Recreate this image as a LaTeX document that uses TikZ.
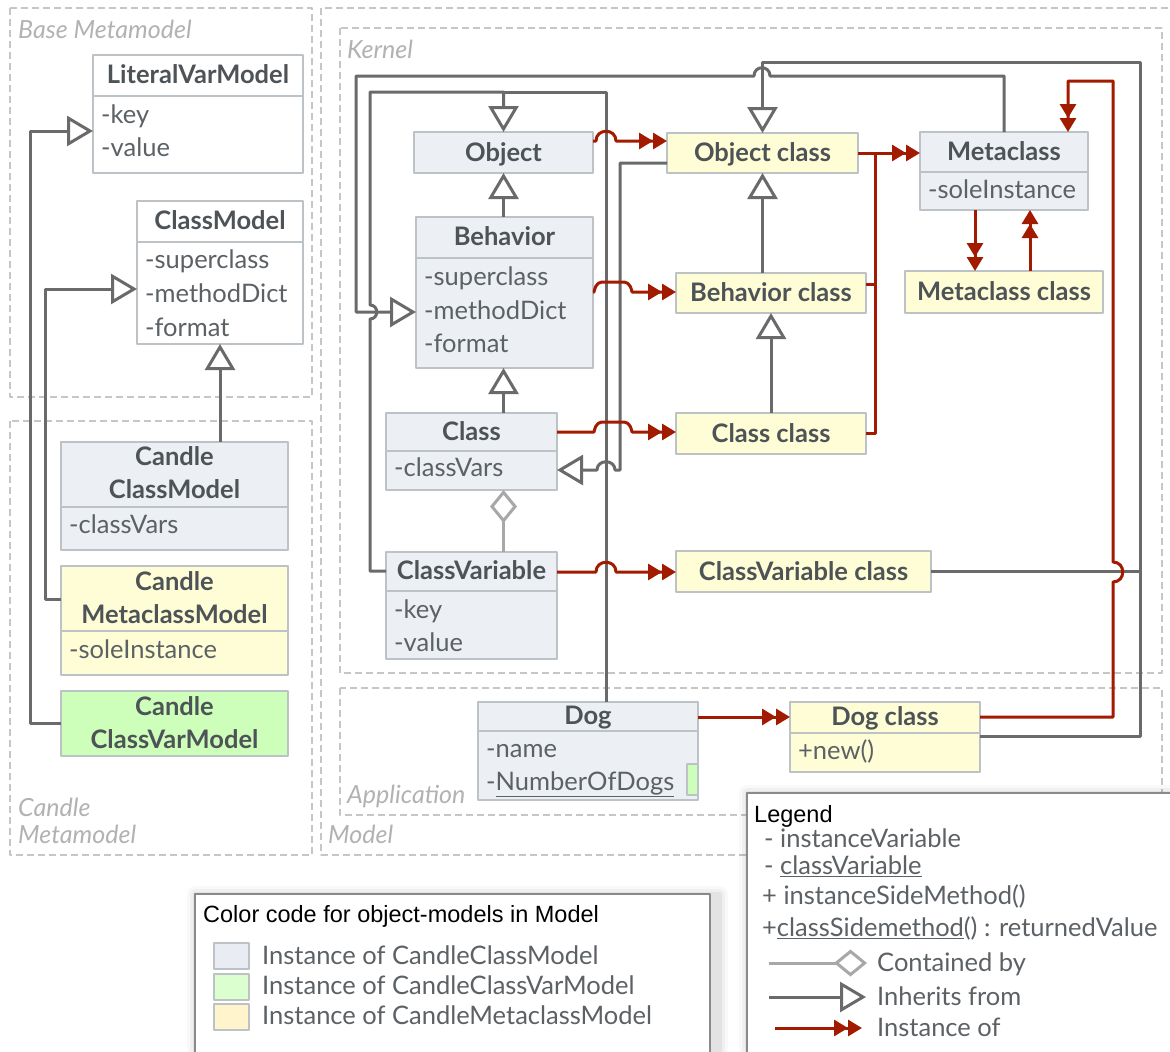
\documentclass[tikz,border=0pt]{standalone}
\usepackage{fontspec}
\setmainfont{Lato}
\newfontfamily\helv{Liberation Sans}
\usetikzlibrary{arrows.meta,calc}
\definecolor{lnc}{HTML}{6A6A6A}
\definecolor{redc}{HTML}{A21A00}
\definecolor{dia}{HTML}{A8A8A8}
\definecolor{bordc}{HTML}{BCC2C6}
\definecolor{bluef}{HTML}{ECEFF3}
\definecolor{yelf}{HTML}{FFFDD6}
\definecolor{grnf}{HTML}{CDFFBA}
\definecolor{ttlc}{HTML}{4E5357}
\definecolor{attc}{HTML}{5C6165}
\definecolor{contc}{HTML}{C6C6C6}
\definecolor{contt}{HTML}{B2B2B2}
\definecolor{legb}{HTML}{8A8A8A}
\definecolor{swb}{HTML}{E9EDF3}
\definecolor{swg}{HTML}{DCFFD0}
\definecolor{swy}{HTML}{FFF4CC}
\tikzset{
 ubox/.style={draw=bordc, line width=2.5pt, inner sep=0pt, outer sep=0pt, anchor=north west},
 sepl/.style={draw=bordc, line width=2.5pt},
 ttl/.style={font=\fontsize{25.5}{29}\selectfont\bfseries, text=ttlc, inner sep=0pt, text height=19pt, text depth=2pt},
 att/.style={font=\fontsize{25.5}{29}\selectfont, text=attc, inner sep=0pt, anchor=west, text height=19pt, text depth=2pt},
 cont/.style={draw=contc, line width=1.3pt, dash pattern=on 7pt off 4pt},
 contlbl/.style={font=\fontsize{25}{29}\selectfont\itshape, text=contt, inner sep=0pt, anchor=west, text height=18pt, text depth=2pt},
 helvt/.style={font=\helv\fontsize{23.5}{27}\selectfont, text=black, inner sep=0pt, anchor=west, text height=17pt, text depth=2pt},
 inh/.style={draw=lnc, line width=3pt, -{Triangle[open, fill=white, length=26pt, width=30pt]}},
 gline/.style={draw=lnc, line width=3pt},
 inst/.style={draw=redc, line width=3pt, -{Triangle[length=14pt, width=16pt] Triangle[length=14pt, width=16pt]}},
 rline/.style={draw=redc, line width=3pt},
 contby/.style={draw=dia, line width=3pt, -{Diamond[open, fill=white, length=33pt, width=27pt]}},
 swatch/.style={draw=bordc, line width=2.5pt, inner sep=0pt, outer sep=0pt, anchor=north west, minimum width=35pt, minimum height=26pt},
}
\newcommand{\ubx}[6]{\node[ubox, fill=#6, minimum width={#4-#2}, minimum height={#5-#3}] (#1) at (#2,#3) {};}
\begin{document}
\begin{tikzpicture}[x=1pt,y=-1pt,line join=round]
\useasboundingbox (0,0) rectangle (1170,1052);
\fill[white] (0,0) rectangle (1170,1052);
% containers
\draw[cont] (10,8) rectangle (312,397);
\draw[cont] (10,421) rectangle (312,855);
\draw[cont] (321,8) rectangle (1190,855);
\draw[cont] (340,28) rectangle (1162,673);
\draw[cont] (340,688) rectangle (1162,815);
\node[contlbl] (lblBase) at (18,30) {Base Metamodel};
\node[contlbl] (lblCand1) at (18,808) {Candle};
\node[contlbl] (lblCand2) at (18,835) {Metamodel};
\node[contlbl] (lblKern) at (347,50) {Kernel};
\node[contlbl] (lblApp) at (347,795) {Application};
\node[contlbl] (lblModel) at (328,835) {Model};

% ---------- boxes ----------
\ubx{LitVar}{93}{55}{303}{173}{white}
\draw[sepl] (93,96) -- (303,96);
\node[ttl] (LitVarT) at (LitVar.north |- 0,75) {LiteralVarModel};
\node[att] (LitVarA1) at (101,115) {-key};
\node[att] (LitVarA2) at (101,148) {-value};

\ubx{ClassModel}{137}{201}{303}{344}{white}
\draw[sepl] (137,242) -- (303,242);
\node[ttl] (ClassModelT) at (ClassModel.north |- 0,221) {ClassModel};
\node[att] (ClassModelA1) at (145,260) {-superclass};
\node[att] (ClassModelA2) at (145,294) {-methodDict};
\node[att] (ClassModelA3) at (145,328) {-format};

\ubx{CCM}{61}{442}{288}{550}{bluef}
\draw[sepl] (61,507) -- (288,507);
\node[ttl] (CCMT1) at (CCM.north |- 0,457) {Candle};
\node[ttl] (CCMT2) at (CCM.north |- 0,490) {ClassModel};
\node[att] (CCMA1) at (69,525) {-classVars};

\ubx{CMM}{61}{566}{288}{675}{yelf}
\draw[sepl] (61,631) -- (288,631);
\node[ttl] (CMMT1) at (CMM.north |- 0,582) {Candle};
\node[ttl] (CMMT2) at (CMM.north |- 0,615) {MetaclassModel};
\node[att] (CMMA1) at (69,650) {-soleInstance};

\ubx{CCVM}{61}{691}{288}{756}{grnf}
\node[ttl] (CCVMT1) at (CCVM.north |- 0,707) {Candle};
\node[ttl] (CCVMT2) at (CCVM.north |- 0,740) {ClassVarModel};

\ubx{Object}{414}{132}{593}{173}{bluef}
\node[ttl] (ObjectT) at (Object.center) {Object};

\ubx{Behavior}{416}{217}{593}{368}{bluef}
\draw[sepl] (416,258) -- (593,258);
\node[ttl] (BehaviorT) at (Behavior.north |- 0,237) {Behavior};
\node[att] (BehaviorA1) at (424,277) {-superclass};
\node[att] (BehaviorA2) at (424,311) {-methodDict};
\node[att] (BehaviorA3) at (424,344) {-format};

\ubx{Class}{386}{413}{557}{490}{bluef}
\draw[sepl] (386,451) -- (557,451);
\node[ttl] (ClassT) at (Class.north |- 0,432) {Class};
\node[att] (ClassA1) at (394,468) {-classVars};

\ubx{CV}{386}{552}{557}{659}{bluef}
\draw[sepl] (386,591) -- (557,591);
\node[ttl] (CVT) at (CV.north |- 0,571) {ClassVariable};
\node[att] (CVA1) at (394,610) {-key};
\node[att] (CVA2) at (394,643) {-value};

\ubx{ObjectClass}{667}{133}{858}{173}{yelf}
\node[ttl] (ObjectClassT) at (ObjectClass.center) {Object class};

\ubx{BehaviorClass}{676}{273}{866}{313}{yelf}
\node[ttl] (BehaviorClassT) at (BehaviorClass.center) {Behavior class};

\ubx{ClassClass}{676}{413}{866}{454}{yelf}
\node[ttl] (ClassClassT) at (ClassClass.center) {Class class};

\ubx{CVClass}{676}{551}{931}{592}{yelf}
\node[ttl] (CVClassT) at (CVClass.center) {ClassVariable class};

\ubx{Metaclass}{920}{132}{1088}{210}{bluef}
\draw[sepl] (920,172) -- (1088,172);
\node[ttl] (MetaclassT) at (Metaclass.north |- 0,152) {Metaclass};
\node[att] (MetaclassA1) at (928,190) {-soleInstance};

\ubx{MetaclassClass}{905}{271}{1103}{313}{yelf}
\node[ttl] (MetaclassClassT) at (MetaclassClass.center) {Metaclass class};

\ubx{Dog}{478}{702}{698}{800}{bluef}
\draw[sepl] (478,731) -- (698,731);
\node[ttl] (DogT) at (Dog.north |- 0,716) {Dog};
\node[att] (DogA1) at (486,749) {-name};
\node[att] (DogA2) at (486,782) {-\underline{NumberOfDogs}};
\node[draw=bordc, line width=2pt, fill=grnf, inner sep=0pt, outer sep=0pt, anchor=north west, minimum width=11pt, minimum height=31pt] (DogCV) at (687,764) {};

\ubx{DogClass}{790}{702}{980}{772}{yelf}
\draw[sepl] (790,733) -- (980,733);
\node[ttl] (DogClassT) at (DogClass.north |- 0,717) {Dog class};
\node[att] (DogClassA1) at (798,751) {+new()};

% ---------- inheritance (left) ----------
\draw[inh] (CCVM.west) -| (30,131) -- (LitVar.west |- 0,131);
\draw[inh] (CMM.west |- 0,599) -| (45,289) -- (ClassModel.west |- 0,289);
\draw[inh] (CCM.north -| 220,0) -- (ClassModel.south -| 220,0);

% ---------- kernel inheritance ----------
\draw[inh] (Behavior.north -| Object.south) -- (Object.south);
\draw[inh] (Class.north -| Object.south) -- (Behavior.south -| Object.south);
\draw[contby] (CV.north -| Object.south) -- (Class.south -| Object.south);
% Metaclass -> Behavior (outer loop)
\draw[inh] (Metaclass.north) -- (1004,76) -- (770,76) .. controls (770,65) and (754,65) .. (754,76) -- (356,76) -- (356,312) -- (Behavior.west |- 0,312);
% ClassVariable -> Object
\draw[inh] (CV.west |- 0,571) -- (370,571) -- (370,319) .. controls (379,319) and (379,305) .. (370,305) -- (370,92) -| (Object.north);
% Dog -> Object
\draw[gline] (Dog.north -| 606,0) -- (606,92) -- (Object.north |- 0,92);
% Object class -> Class
\draw[inh] (ObjectClass.west |- 0,163) -- (620,163) -- (620,470) -- (615,470) .. controls (615,459) and (597,459) .. (597,470) -- (Class.east |- 0,470);
% Behavior class -> Object class, Class class -> Behavior class
\draw[inh] (BehaviorClass.north -| ObjectClass.south) -- (ObjectClass.south);
\draw[inh] (ClassClass.north) -- (BehaviorClass.south);
% Dog class, ClassVariable class -> Object class
\draw[inh] (DogClass.east |- 0,736) -- (1140,736) -- (1140,62) -| (ObjectClass.north);
\draw[gline] (CVClass.east) -- (1140,571.5);

% ---------- instance-of ----------
\draw[inst] (Object.east |- 0,141) -- (596,141) .. controls (596,128) and (616,128) .. (616,141) -- (ObjectClass.west |- 0,141);
\draw[inst] (Behavior.east |- 0,292) -- (594,292) .. controls (596,282) and (600,282) .. (605,282) -- (621,282) .. controls (626,282) and (630,282) .. (632,292) -- (BehaviorClass.west |- 0,292);
\draw[inst] (Class.east |- 0,432) -- (594,432) .. controls (596,422) and (600,422) .. (605,422) -- (621,422) .. controls (626,422) and (630,422) .. (632,432) -- (ClassClass.west |- 0,432);
\draw[inst] (CV.east |- 0,572) -- (596,572) .. controls (596,559) and (616,559) .. (616,572) -- (CVClass.west |- 0,572);
\draw[inst] (Dog.east |- 0,717) -- (DogClass.west |- 0,717);
\draw[inst] (ObjectClass.east) -- (Metaclass.west |- 0,153);
\draw[rline] (BehaviorClass.east |- 0,284) -| (875,153);
\draw[rline] (ClassClass.east) -| (875,153);
\draw[inst] (Metaclass.south -| 975,0) -- (MetaclassClass.north -| 975,0);
\draw[inst] (MetaclassClass.north -| 1030,0) -- (Metaclass.south -| 1030,0);
\draw[inst] (DogClass.east |- 0,717) -- (1113,717) -- (1113,582) .. controls (1126,582) and (1126,562) .. (1113,562) -- (1113,81) -- (1068,81) -- (Metaclass.north -| 1068,0);

% ---------- color code box ----------
\foreach \d/\o in {8/0.025,5/0.035,2/0.05}{\fill[black,opacity=\o,rounded corners=\d] (195-\d,894-\d) rectangle (720+\d,1070);}
\node[draw=legb, line width=1.5pt, fill=white, inner sep=0pt, outer sep=0pt, anchor=north west, minimum width=515pt, minimum height=180pt] (ccbox) at (195,894) {};
\node[helvt] (ccT) at (203,915) {Color code for object-models in Model};
\node[swatch, fill=swb] (sw1) at (214,943) {};
\node[swatch, fill=swg] (sw2) at (214,974) {};
\node[swatch, fill=swy] (sw3) at (214,1004) {};
\node[att] (cc1) at (262,956) {Instance of CandleClassModel};
\node[att] (cc2) at (262,986) {Instance of CandleClassVarModel};
\node[att] (cc3) at (262,1016) {Instance of CandleMetaclassModel};

% ---------- legend ----------
\foreach \d/\o in {8/0.025,5/0.035,2/0.05}{\fill[black,opacity=\o,rounded corners=\d] (747-\d,793-\d) rectangle (1190,1070);}
\node[draw=legb, line width=1.5pt, fill=white, inner sep=0pt, outer sep=0pt, anchor=north west, minimum width=450pt, minimum height=280pt] (legbox) at (747,793) {};
\node[helvt] (legT) at (754,815) {Legend};
\node[att] (leg1) at (764,839) {- instanceVariable};
\node[att] (leg2) at (764,866) {- \underline{classVariable}};
\node[att] (leg3) at (762,896) {+ instanceSideMethod()};
\node[att] (leg4) at (762,928) {+\underline{classSidemethod}() : returnedValue};
\coordinate (lc1) at (769,963); \coordinate (lc2) at (867,963);
\draw[contby] (lc1) -- (lc2);
\node[att] (leg5) at (877,963) {Contained by};
\coordinate (li1) at (769,997); \coordinate (li2) at (866,997);
\draw[inh] (li1) -- (li2);
\node[att] (leg6) at (877,997) {Inherits from};
\coordinate (lr1) at (775,1028); \coordinate (lr2) at (862,1028);
\draw[inst] (lr1) -- (lr2);
\node[att] (leg7) at (877,1028) {Instance of};
\end{tikzpicture}
\end{document}
